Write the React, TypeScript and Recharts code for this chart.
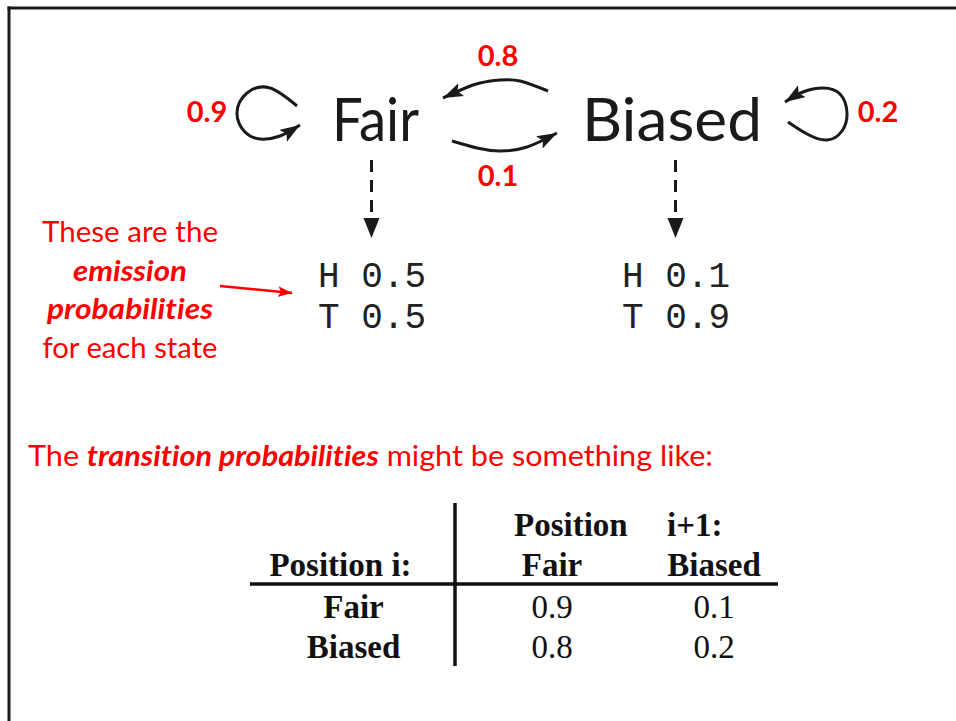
import React from 'react';
import { ComposedChart, XAxis, YAxis, Line, Scatter } from 'recharts';

// ---------- data ----------
const states = ['Fair', 'Biased'];
const selfTransition = [0.9, 0.2]; // Fair->Fair, Biased->Biased
const crossTransition = [0.1, 0.8]; // Fair->Biased, Biased->Fair
const emissionSymbols = ['H', 'T'];
const emissionFair = [0.5, 0.5];
const emissionBiased = [0.1, 0.9];
const noteLines = ['These are the', 'emission', 'probabilities', 'for each state'];
const noteEmphasis = [false, true, true, false];
const sentenceParts = ['The ', 'transition probabilities', ' might be something like:'];
const sentenceEmphasis = [false, true, false];
const tableCorner = 'Position i:';
const tableColTitle = ['Position', 'i+1:'];
const tableCols = ['Fair', 'Biased'];
const tableRows = ['Fair', 'Biased'];
const transitionMatrix = [
  [0.9, 0.1],
  [0.8, 0.2],
];

// ---------- layout ----------
const W = 956;
const H = 721;
const fmt = (v: number) => v.toFixed(1);

const LAYOUT = {
  stateX: [375.5, 672],
  stateY: 141,
  stateLen: [87, 180],
  selfLabel: [
    { x: 207, y: 122 },
    { x: 878, y: 122 },
  ],
  crossLabel: [
    { x: 498, y: 186 },
    { x: 498, y: 66 },
  ],
  emissionX: [318, 622],
  emissionY: [287, 328],
  noteX: 130,
  noteY: [242, 280.5, 319, 357.5],
  noteLen: [176, 114, 166, 175],
  sentenceX: 28,
  sentenceY: 466,
  sentenceLen: 685,
  cornerX: 340.5,
  headerY: 576,
  titleY: 536,
  titleX: [514, 667],
  colX: [552, 714],
  rowX: 353.5,
  rowY: [618, 658],
};

const LOOP_LEFT = [
  { x: 297, y: 106 }, { x: 270, y: 88 }, { x: 247, y: 93 }, { x: 237, y: 113 },
  { x: 245, y: 132 }, { x: 260, y: 139 }, { x: 280, y: 136 }, { x: 300, y: 125 },
];
const LOOP_RIGHT = [
  { x: 788, y: 122 }, { x: 807, y: 134 }, { x: 827, y: 140 }, { x: 842, y: 131 },
  { x: 847, y: 113 }, { x: 840, y: 94 }, { x: 823, y: 88 }, { x: 803, y: 92 }, { x: 785, y: 102 },
];
const ARC_TOP = [
  { x: 548, y: 91 }, { x: 520, y: 81 }, { x: 500, y: 80 }, { x: 480, y: 83 }, { x: 463, y: 89 }, { x: 443, y: 98 },
];
const ARC_BOTTOM = [
  { x: 452, y: 141 }, { x: 477, y: 148 }, { x: 500, y: 151 }, { x: 527, y: 147 }, { x: 557, y: 133 },
];
const DASH_FAIR = [{ x: 371.5, y: 160 }, { x: 371.5, y: 238 }];
const DASH_BIASED = [{ x: 675.5, y: 160 }, { x: 675.5, y: 238 }];
const RED_ARROW = [{ x: 220, y: 286 }, { x: 292, y: 293 }];
const TABLE_H = [{ x: 250, y: 584 }, { x: 778, y: 584 }];
const TABLE_V = [{ x: 455, y: 503 }, { x: 455, y: 666 }];
const BORDER_TOP = [{ x: 7.5, y: 8 }, { x: 956, y: 8 }];
const BORDER_LEFT = [{ x: 9, y: 6.5 }, { x: 9, y: 721 }];

const NOLIG = { whiteSpace: 'pre', fontVariantLigatures: 'none', fontFeatureSettings: '"liga" 0, "clig" 0' } as any;

const STYLES: Record<string, any> = {
  state: { fontFamily: 'Lato, sans-serif', fontSize: 60, fontWeight: 400, fill: '#1a1a1a', textAnchor: 'middle' },
  prob: { fontFamily: 'Lato, sans-serif', fontSize: 29, fontWeight: 700, fill: '#ff0000', textAnchor: 'middle' },
  emission: { fontFamily: '"Liberation Mono", monospace', fontSize: 36, fill: '#222', textAnchor: 'start' },
  note: { fontFamily: 'Lato, sans-serif', fontSize: 29, fill: '#ff0000', textAnchor: 'middle' },
  sentence: { fontFamily: 'Lato, sans-serif', fontSize: 29, fill: '#ff0000', textAnchor: 'start' },
  thBold: { fontFamily: '"Liberation Serif", serif', fontSize: 33, fontWeight: 700, fill: '#111', textAnchor: 'middle' },
  thBoldStart: { fontFamily: '"Liberation Serif", serif', fontSize: 33, fontWeight: 700, fill: '#111', textAnchor: 'start' },
  td: { fontFamily: '"Liberation Serif", serif', fontSize: 33, fill: '#111', textAnchor: 'middle' },
};

type Part = { t: string; em: boolean };
type Item = { x: number; y: number; kind: string; text?: string; parts?: Part[]; len?: number };

const items: Item[] = [];
states.forEach((s, i) => items.push({ x: LAYOUT.stateX[i], y: LAYOUT.stateY, kind: 'state', text: s, len: LAYOUT.stateLen[i] }));
selfTransition.forEach((p, i) => items.push({ ...LAYOUT.selfLabel[i], kind: 'prob', text: fmt(p) }));
crossTransition.forEach((p, i) => items.push({ ...LAYOUT.crossLabel[i], kind: 'prob', text: fmt(p) }));
[emissionFair, emissionBiased].forEach((probs, si) =>
  emissionSymbols.forEach((sym, k) =>
    items.push({ x: LAYOUT.emissionX[si], y: LAYOUT.emissionY[k], kind: 'emission', text: `${sym} ${fmt(probs[k])}` })
  )
);
noteLines.forEach((t, i) =>
  items.push({ x: LAYOUT.noteX, y: LAYOUT.noteY[i], kind: 'note', parts: [{ t, em: noteEmphasis[i] }], len: LAYOUT.noteLen[i] })
);
items.push({
  x: LAYOUT.sentenceX,
  y: LAYOUT.sentenceY,
  kind: 'sentence',
  parts: sentenceParts.map((t, i) => ({ t, em: sentenceEmphasis[i] })),
  len: LAYOUT.sentenceLen,
});
items.push({ x: LAYOUT.cornerX, y: LAYOUT.headerY, kind: 'thBold', text: tableCorner });
tableColTitle.forEach((t, i) => items.push({ x: LAYOUT.titleX[i], y: LAYOUT.titleY, kind: 'thBoldStart', text: t }));
tableCols.forEach((t, i) => items.push({ x: LAYOUT.colX[i], y: LAYOUT.headerY, kind: 'thBold', text: t }));
tableRows.forEach((t, r) => {
  items.push({ x: LAYOUT.rowX, y: LAYOUT.rowY[r], kind: 'thBold', text: t });
  transitionMatrix[r].forEach((v, c) => items.push({ x: LAYOUT.colX[c], y: LAYOUT.rowY[r], kind: 'td', text: fmt(v) }));
});

const TextShape = (props: any) => {
  const { cx, cy, payload } = props;
  if (cx == null || cy == null || !payload) return null;
  const st = STYLES[payload.kind];
  const extra: any = payload.len ? { textLength: payload.len, lengthAdjust: 'spacingAndGlyphs' } : {};
  return (
    <text x={cx} y={cy} {...st} {...extra} style={NOLIG}>
      {payload.parts
        ? payload.parts.map((p: Part, i: number) => (
            <tspan key={i} fontWeight={p.em ? 700 : 400} fontStyle={p.em ? 'italic' : 'normal'}>
              {p.t}
            </tspan>
          ))
        : payload.text}
    </text>
  );
};

const curve = (key: string, data: any[], opts: any = {}) => (
  <Line
    key={key}
    data={data}
    dataKey="y"
    type={opts.type || 'linear'}
    stroke={opts.stroke || '#1a1a1a'}
    strokeWidth={opts.w || 3}
    strokeDasharray={opts.dash}
    markerEnd={opts.marker ? `url(#${opts.marker})` : undefined}
    dot={false}
    activeDot={false}
    isAnimationActive={false}
    legendType="none"
  />
);

export default function App() {
  return (
    <div style={{ position: 'absolute', left: 0, top: 0, width: W, height: H, background: '#fff' }}>
      <svg width={0} height={0} style={{ position: 'absolute' }}>
        <defs>
          <marker id="ahB" markerUnits="userSpaceOnUse" markerWidth={22} markerHeight={16} refX={20} refY={7} orient="auto">
            <path d="M0,0 L20,7 L0,14 L4,7 Z" fill="#1a1a1a" />
          </marker>
          <marker id="ahD" markerUnits="userSpaceOnUse" markerWidth={22} markerHeight={18} refX={20} refY={8} orient="auto">
            <path d="M0,0 L20,8 L0,16 Z" fill="#1a1a1a" />
          </marker>
          <marker id="ahR" markerUnits="userSpaceOnUse" markerWidth={16} markerHeight={12} refX={14} refY={5.5} orient="auto">
            <path d="M0,0 L14,5.5 L0,11 L3,5.5 Z" fill="#ff0000" />
          </marker>
        </defs>
      </svg>
      <ComposedChart width={W} height={H} margin={{ top: 0, right: 0, bottom: 0, left: 0 }}>
        <XAxis type="number" dataKey="x" domain={[0, W]} allowDataOverflow hide />
        <YAxis type="number" dataKey="y" domain={[0, H]} allowDataOverflow reversed hide />
        {curve('borderTop', BORDER_TOP, { w: 3 })}
        {curve('borderLeft', BORDER_LEFT, { w: 3 })}
        {curve('loopL', LOOP_LEFT, { type: 'natural', marker: 'ahB' })}
        {curve('loopR', LOOP_RIGHT, { type: 'natural', marker: 'ahB' })}
        {curve('arcTop', ARC_TOP, { type: 'natural', marker: 'ahB' })}
        {curve('arcBottom', ARC_BOTTOM, { type: 'natural', marker: 'ahB' })}
        {curve('dashF', DASH_FAIR, { dash: '12 8', marker: 'ahD' })}
        {curve('dashB', DASH_BIASED, { dash: '12 8', marker: 'ahD' })}
        {curve('redArrow', RED_ARROW, { stroke: '#ff0000', w: 2.5, marker: 'ahR' })}
        {curve('tableH', TABLE_H, { w: 3.5, stroke: '#111' })}
        {curve('tableV', TABLE_V, { w: 3.5, stroke: '#111' })}
        <Scatter data={items} dataKey="y" shape={<TextShape />} isAnimationActive={false} legendType="none" />
      </ComposedChart>
    </div>
  );
}
